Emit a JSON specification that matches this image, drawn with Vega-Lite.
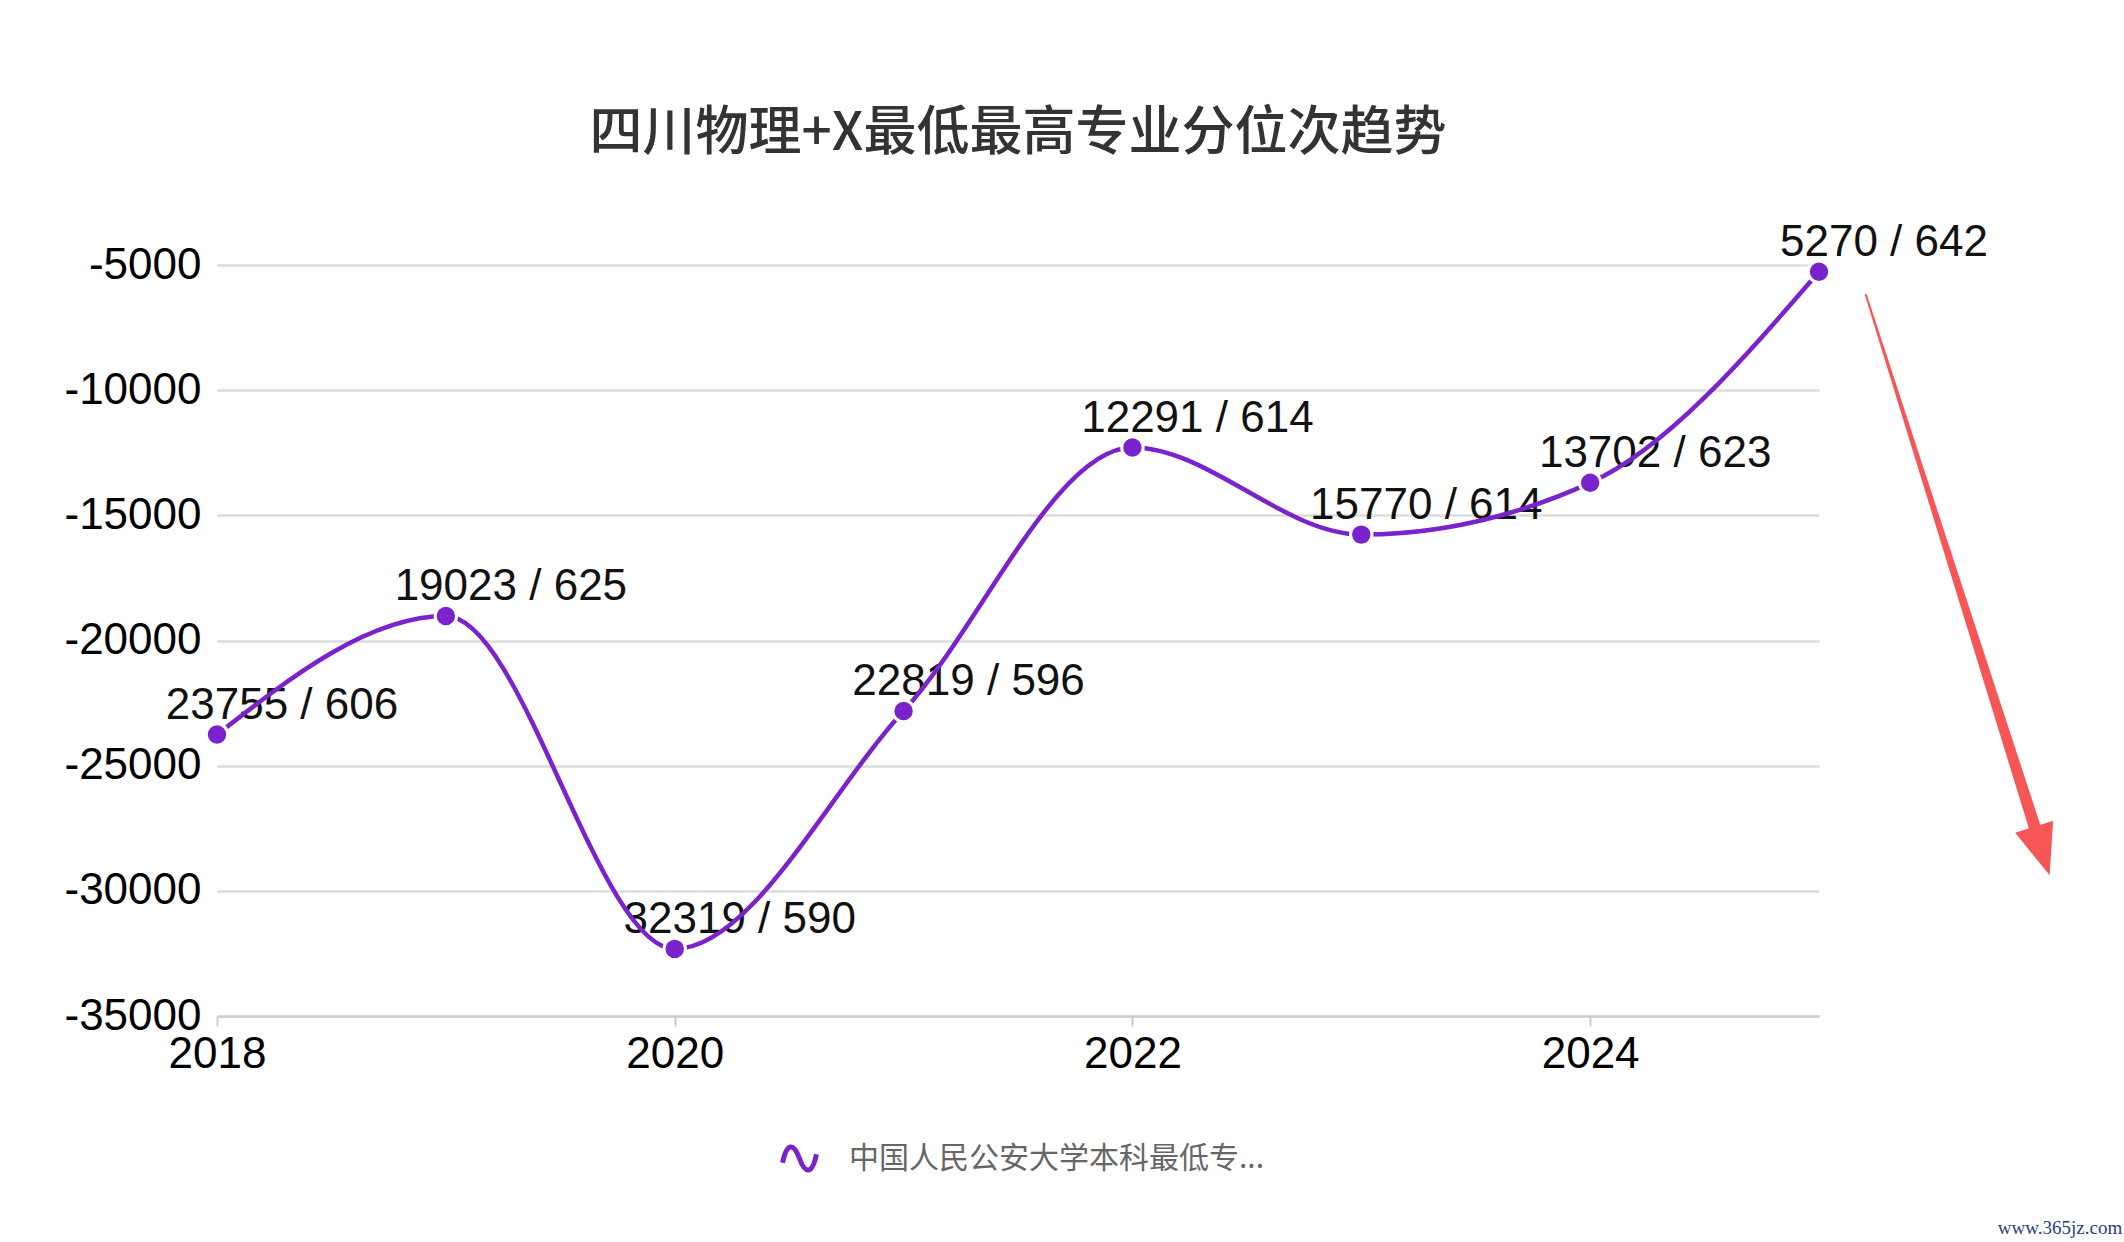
{
  "$schema": "https://vega.github.io/schema/vega-lite/v6.json",
  "width": 1602,
  "height": 751,
  "autosize": {"type": "none"},
  "padding": {"left": 217, "top": 265, "right": 305, "bottom": 226},
  "background": "white",
  "title": {
    "text": "四川物理+X最低最高专业分位次趋势",
    "font": "Noto Sans CJK SC",
    "fontSize": 53,
    "fontWeight": 500,
    "color": "#333333",
    "anchor": "middle",
    "offset": 60
  },
  "datasets": {
    "ranks": [
      {"year": 2018, "rank": -23755, "label": "23755 / 606", "series": "中国人民公安大学本科最低专..."},
      {"year": 2019, "rank": -19023, "label": "19023 / 625", "series": "中国人民公安大学本科最低专..."},
      {"year": 2020, "rank": -32319, "label": "32319 / 590", "series": "中国人民公安大学本科最低专..."},
      {"year": 2021, "rank": -22819, "label": "22819 / 596", "series": "中国人民公安大学本科最低专..."},
      {"year": 2022, "rank": -12291, "label": "12291 / 614", "series": "中国人民公安大学本科最低专..."},
      {"year": 2023, "rank": -15770, "label": "15770 / 614", "series": "中国人民公安大学本科最低专..."},
      {"year": 2024, "rank": -13702, "label": "13702 / 623", "series": "中国人民公安大学本科最低专..."},
      {"year": 2025, "rank": -5270, "label": "5270 / 642", "series": "中国人民公安大学本科最低专..."}
    ],
    "arrow": [
      {"year": 2025.205, "rank": -6198},
      {"year": 2025.944, "rank": -27490}
    ],
    "arrowhead": [
      {"year": 2025.974, "rank": -28409}
    ],
    "watermark": [
      {"year": 2026.053, "rank": -43709, "text": "www.365jz.com"}
    ]
  },
  "encoding": {
    "x": {
      "field": "year",
      "type": "quantitative",
      "scale": {"domain": [2018, 2025], "nice": false, "zero": false},
      "axis": {
        "title": null,
        "values": [2018, 2020, 2022, 2024],
        "format": "d",
        "grid": false,
        "labelFlush": false,
        "domainColor": "#cccccc",
        "domainWidth": 2,
        "tickColor": "#cccccc",
        "tickWidth": 2,
        "tickSize": 10,
        "labelPadding": 6,
        "labelFont": "Liberation Sans",
        "labelFontSize": 44,
        "labelColor": "#000000"
      }
    },
    "y": {
      "field": "rank",
      "type": "quantitative",
      "scale": {"domain": [-35000, -5000], "nice": false, "zero": false},
      "axis": {
        "title": null,
        "values": [-35000, -30000, -25000, -20000, -15000, -10000, -5000],
        "labelExpr": "'' + datum.value",
        "domain": false,
        "ticks": false,
        "gridColor": "#dddddd",
        "gridWidth": 2.5,
        "labelPadding": 16,
        "labelFont": "Liberation Sans",
        "labelFontSize": 44,
        "labelColor": "#000000"
      }
    }
  },
  "layer": [
    {
      "data": {"name": "ranks"},
      "mark": {"type": "text", "dx": 65, "dy": -16, "align": "center", "baseline": "alphabetic", "font": "Liberation Sans", "fontSize": 44, "color": "#111111"},
      "encoding": {"text": {"field": "label", "type": "nominal"}}
    },
    {
      "data": {"name": "ranks"},
      "mark": {"type": "line", "interpolate": "monotone", "strokeWidth": 4.5},
      "encoding": {
        "color": {
          "field": "series",
          "type": "nominal",
          "scale": {"range": ["#7A22CC"]},
          "legend": {
            "title": null,
            "orient": "none",
            "legendX": 563,
            "legendY": 874,
            "symbolType": "M-1,0.25C-0.75,-0.95 -0.35,-0.95 0,0C0.35,0.95 0.75,0.95 1,-0.25",
            "symbolSize": 1150,
            "symbolStrokeWidth": 5,
            "symbolFillColor": "transparent",
            "labelFont": "Noto Sans CJK SC",
            "labelFontSize": 30,
            "labelColor": "#666666",
            "labelOffset": 30,
            "labelLimit": 1000
          }
        }
      }
    },
    {
      "data": {"name": "ranks"},
      "mark": {"type": "point", "filled": true, "fill": "#7A22CC", "stroke": "white", "strokeWidth": 3, "size": 460, "opacity": 1}
    },
    {
      "data": {"name": "arrow"},
      "mark": {"type": "trail", "color": "#F65656"},
      "encoding": {
        "size": {"field": "rank", "type": "quantitative", "scale": {"domain": [-27490, -6198], "range": [12, 2]}, "legend": null}
      }
    },
    {
      "data": {"name": "arrowhead"},
      "mark": {"type": "point", "shape": "M-0.78,-1L0.78,-1L0,1Z", "filled": true, "fill": "#F65656", "strokeWidth": 0, "size": 2601, "angle": 342.3, "opacity": 1}
    },
    {
      "data": {"name": "watermark"},
      "mark": {"type": "text", "align": "center", "baseline": "alphabetic", "font": "Liberation Serif", "fontSize": 19, "color": "#24437F"},
      "encoding": {"text": {"field": "text", "type": "nominal"}}
    }
  ],
  "config": {"view": {"stroke": null}}
}
